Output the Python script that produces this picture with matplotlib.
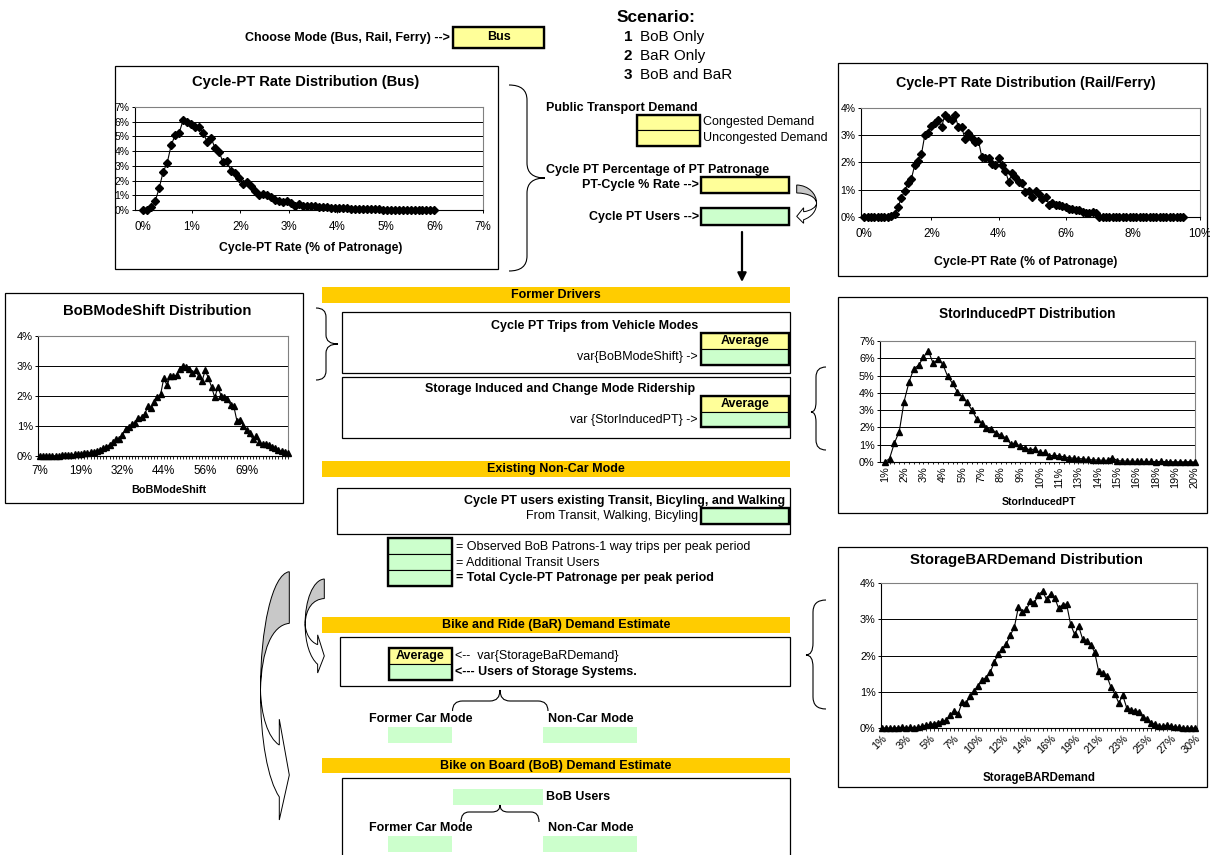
import numpy as np
import matplotlib
matplotlib.use("Agg")
import matplotlib.pyplot as plt
from matplotlib.patches import Rectangle, PathPatch
from matplotlib.path import Path

plt.rcParams['font.family'] = ['Liberation Sans', 'DejaVu Sans']

W, H = 1210, 855

# ---------------- data ----------------
# Cycle-PT rate distribution for bus (share of trials, %)
bus_share = [0, 0, 0.2, 0.6, 1.5, 2.6, 3.2, 4.4, 5.1, 5.25,
             6.1, 6.0, 5.85, 5.65, 5.65, 5.25, 4.65, 4.9, 4.2, 3.95,
             3.25, 3.3, 2.65, 2.5, 2.2, 1.8, 1.9, 1.65, 1.3, 1.05,
             1.1, 1.05, 0.85, 0.7, 0.6, 0.55, 0.6, 0.5, 0.3, 0.4,
             0.3, 0.25, 0.25, 0.25, 0.2, 0.2, 0.2, 0.15, 0.15, 0.12,
             0.15, 0.12, 0.1, 0.08, 0.06, 0.08, 0.05, 0.05, 0.04, 0.05,
             0.03, 0.03, 0.03, 0.02, 0.02, 0.02, 0.02, 0.01, 0.01, 0.01,
             0.01, 0.01, 0.01, 0.0]
bus_rate = np.linspace(0.0, 6.0, len(bus_share))
bus_xticks = ["0%", "1%", "2%", "3%", "4%", "5%", "6%", "7%"]
bus_yticks = ["0%", "1%", "2%", "3%", "4%", "5%", "6%", "7%"]

# Cycle-PT rate distribution for rail / ferry (%)
rail_share = [0, 0, 0, 0, 0, 0, 0, 0,
              0.05, 0.12, 0.35, 0.7, 0.95, 1.25, 1.4, 1.9, 2.05, 2.3,
              3.0, 3.1, 3.35, 3.45, 3.55, 3.3, 3.75, 3.65, 3.55, 3.75,
              3.3, 3.3, 2.85, 3.1, 2.9, 2.75, 2.8, 2.2, 2.15, 2.15,
              1.95, 1.9, 2.15, 1.9, 1.7, 1.3, 1.6, 1.45, 1.3, 1.25,
              0.9, 0.95, 0.75, 0.95, 0.85, 0.65, 0.75, 0.45, 0.5, 0.45,
              0.45, 0.4, 0.35, 0.3, 0.3, 0.25, 0.25, 0.2, 0.15, 0.15, 0.2, 0.15,
              0, 0, 0, 0, 0, 0, 0, 0, 0, 0, 0, 0, 0,
              0, 0, 0, 0, 0, 0, 0, 0, 0, 0, 0, 0, 0]
rail_rate = np.linspace(0.0, 9.5, len(rail_share))
rail_xticks = ["0%", "2%", "4%", "6%", "8%", "10%"]
rail_yticks = ["0%", "1%", "2%", "3%", "4%"]

# BoBModeShift distribution (%), one value per category
bob_shift_share = [0, 0, 0, 0, 0.01, 0.01, 0.01, 0.02, 0.02, 0.03,
                   0.04, 0.05, 0.06, 0.07, 0.09, 0.1, 0.12, 0.14, 0.17, 0.2,
                   0.25, 0.3, 0.38, 0.45, 0.55, 0.55, 0.7, 0.9, 0.95, 1.05,
                   1.1, 1.25, 1.3, 1.4, 1.65, 1.6, 1.8, 1.95, 2.05, 2.6,
                   2.35, 2.65, 2.65, 2.7, 2.9, 3.0, 2.95, 2.9, 2.75, 2.85,
                   2.65, 2.5, 2.85, 2.6, 2.3, 1.95, 2.3, 2.0, 1.95, 1.9,
                   1.7, 1.65, 1.15, 1.2, 1.0, 0.85, 0.75, 0.55, 0.65, 0.45,
                   0.4, 0.4, 0.35, 0.3, 0.25, 0.2, 0.15, 0.12, 0.1]
bob_shift_xticks = ["7%", "19%", "32%", "44%", "56%", "69%"]
bob_shift_yticks = ["0%", "1%", "2%", "3%", "4%"]

# StorInducedPT distribution (%)
stor_induced_share = [0, 0.2, 1.1, 1.75, 3.5, 4.6, 5.4, 5.6, 6.05, 6.45,
                      5.7, 5.95, 5.65, 4.95, 4.55, 4.05, 3.75, 3.45, 3.0, 2.5,
                      2.25, 1.95, 1.9, 1.7, 1.55, 1.4, 1.05, 1.1, 0.9, 0.8,
                      0.7, 0.75, 0.55, 0.55, 0.35,
                      0.4, 0.35, 0.3, 0.25, 0.22, 0.2, 0.18, 0.15, 0.12, 0.12,
                      0.1, 0.1, 0.25, 0.08, 0.06, 0.05, 0.05, 0.04, 0.04, 0.03,
                      0.03, 0.02, 0.03, 0.02, 0.02, 0.01, 0.01, 0.01, 0.02, 0.0]
stor_induced_xticks = ["1%", "2%", "3%", "4%", "5%", "7%", "8%", "9%", "10%",
                       "11%", "13%", "14%", "15%", "16%", "18%", "19%", "20%"]
stor_induced_yticks = ["0%", "1%", "2%", "3%", "4%", "5%", "6%", "7%"]

# StorageBARDemand distribution (%)
storage_bar_share = [0, 0, 0, 0, 0.01, 0.02, 0.01, 0.02, 0.01, 0.02,
                     0.05, 0.08, 0.1, 0.12, 0.15, 0.18, 0.22, 0.35, 0.48, 0.4,
                     0.72, 0.7, 0.87, 1.03, 1.17, 1.33, 1.39, 1.54, 1.83, 2.03,
                     2.17, 2.33, 2.56, 2.79, 3.34, 3.2, 3.27, 3.5, 3.46, 3.68,
                     3.77, 3.55, 3.71, 3.6, 3.31, 3.4, 3.42, 2.86, 2.58, 2.81,
                     2.45, 2.4, 2.3, 2.09, 1.56, 1.51, 1.44, 1.14, 0.95, 0.69,
                     0.9, 0.55, 0.5, 0.48, 0.45, 0.3, 0.25, 0.15, 0.1, 0.05,
                     0.05, 0.08, 0.05, 0.03, 0.02, 0.0, 0.0, 0.0, 0.0]
storage_bar_xticks = ["1%", "3%", "5%", "7%", "10%", "12%", "14%", "16%",
                      "19%", "21%", "23%", "25%", "27%", "30%"]
storage_bar_yticks = ["0%", "1%", "2%", "3%", "4%"]

# ---------------- colours ----------------
YELLOW = '#FFFF99'
GREEN = '#CCFFCC'
ORANGE = '#FFCC00'
SHADE = '#C8C8C8'

fig = plt.figure(figsize=(W / 100, H / 100), dpi=100)
fig.patch.set_facecolor('white')

# Sheet canvas in pixel units (y downwards)
bg = fig.add_axes([0, 0, 1, 1])
bg.set_xlim(0, W)
bg.set_ylim(H, 0)
bg.axis('off')


def rect(x0, y0, x1, y1, fc='white', ec='black', lw=0.9, z=1):
    bg.add_patch(Rectangle((x0, y0), x1 - x0, y1 - y0, facecolor=fc,
                           edgecolor=ec, lw=lw, zorder=z))


def txt(x, y, s, ha='left', bold=False, size=9.0, color='black'):
    bg.text(x, y, s, ha=ha, va='center', fontsize=size,
            fontweight='bold' if bold else 'normal', color=color, zorder=5)


def cells(x0, y0, x1, y1, colours, texts=None):
    n = len(colours)
    h = (y1 - y0) / n
    for i, c in enumerate(colours):
        rect(x0, y0 + i * h, x1, y0 + (i + 1) * h, fc=c, lw=0.8, z=2)
        if texts and texts[i]:
            txt((x0 + x1) / 2, y0 + (i + 0.5) * h, texts[i], ha='center', bold=True)
    rect(x0, y0, x1, y1, fc='none', lw=1.7, z=3)


def brace_v(x_end, x_spine, x_tip, y_top, y_bot, y_tip, r):
    v = [(x_end, y_top), (x_spine, y_top), (x_spine, y_top + r),
         (x_spine, y_tip - r), (x_spine, y_tip), (x_tip, y_tip),
         (x_spine, y_tip), (x_spine, y_tip + r),
         (x_spine, y_bot - r), (x_spine, y_bot), (x_end, y_bot)]
    c = [Path.MOVETO, Path.CURVE3, Path.CURVE3, Path.LINETO, Path.CURVE3,
         Path.CURVE3, Path.CURVE3, Path.CURVE3, Path.LINETO, Path.CURVE3,
         Path.CURVE3]
    bg.add_patch(PathPatch(Path(v, c), fc='none', ec='black', lw=0.8, zorder=4))


def brace_h(x_left, x_right, y_end, y_spine, y_tip, x_tip, r):
    v = [(x_left, y_end), (x_left, y_spine), (x_left + r, y_spine),
         (x_tip - r, y_spine), (x_tip, y_spine), (x_tip, y_tip),
         (x_tip, y_spine), (x_tip + r, y_spine),
         (x_right - r, y_spine), (x_right, y_spine), (x_right, y_end)]
    c = [Path.MOVETO, Path.CURVE3, Path.CURVE3, Path.LINETO, Path.CURVE3,
         Path.CURVE3, Path.CURVE3, Path.CURVE3, Path.LINETO, Path.CURVE3,
         Path.CURVE3]
    bg.add_patch(PathPatch(Path(v, c), fc='none', ec='black', lw=0.8, zorder=4))


def curved_arrow(x_edge, y0, w, h, sign):
    """Ribbon arrow: tail edge at x_edge, bulging by w, head pointing back."""
    def P(u, v):
        return (x_edge + sign * u * w, y0 + v * h)
    back = Path([P(0, 0), P(0.597, 0.009), P(1.0, 0.235), P(0.993, 0.476),
                 P(0.959, 0.315), P(0.597, 0.215), P(0, 0.208), P(0, 0)],
                [Path.MOVETO, Path.CURVE4, Path.CURVE4, Path.CURVE4,
                 Path.CURVE4, Path.CURVE4, Path.CURVE4, Path.CLOSEPOLY])
    front = Path([P(0.993, 0.476), P(1.0, 0.678), P(0.734, 0.839), P(0.345, 0.907),
                  P(0.345, 1.0), P(0, 0.819), P(0.345, 0.594), P(0.345, 0.698),
                  P(0.734, 0.670), P(0.976, 0.577), P(0.993, 0.476), P(0.993, 0.476)],
                 [Path.MOVETO, Path.CURVE4, Path.CURVE4, Path.CURVE4,
                  Path.LINETO, Path.LINETO, Path.LINETO, Path.LINETO,
                  Path.CURVE4, Path.CURVE4, Path.CURVE4, Path.CLOSEPOLY])
    bg.add_patch(PathPatch(front, fc='white', ec='black', lw=0.7, zorder=4))
    bg.add_patch(PathPatch(back, fc=SHADE, ec='black', lw=0.7, zorder=4))


def chart_axes(x0, y0, x1, y1, ylabels, ylsize=7.5):
    ax = fig.add_axes([x0 / W, 1 - y1 / H, (x1 - x0) / W, (y1 - y0) / H])
    ax.set_facecolor('white')
    ax.set_ylim(0, len(ylabels) - 1)
    ax.set_yticks(range(len(ylabels)))
    ax.set_yticklabels(ylabels)
    ax.yaxis.grid(True, color='black', lw=0.7)
    ax.set_axisbelow(True)
    for s in ('top', 'right'):
        ax.spines[s].set_color('#808080')
        ax.spines[s].set_linewidth(0.8)
    for s in ('left', 'bottom'):
        ax.spines[s].set_color('black')
        ax.spines[s].set_linewidth(0.8)
    ax.tick_params(axis='y', direction='out', length=2.2, width=0.7, pad=1.6,
                   labelsize=ylsize)
    return ax


# ---------------- header ----------------
txt(450, 38, "Choose Mode (Bus, Rail, Ferry) -->", ha='right', bold=True)
cells(453, 27, 544, 48, [YELLOW], ["Bus"])
txt(617, 17, "Scenario:", bold=True, size=12.5)
for yy, num, name in [(37, "1", "BoB Only"), (56, "2", "BaR Only"), (75, "3", "BoB and BaR")]:
    txt(624, yy, num, bold=True, size=11)
    txt(640, yy, name, size=11)

# ---------------- demand block ----------------
txt(546, 108, "Public Transport Demand", bold=True)
cells(637, 115, 700, 146, [YELLOW, YELLOW])
txt(703, 122.5, "Congested Demand")
txt(703, 138.5, "Uncongested Demand")
txt(546, 170, "Cycle PT Percentage of PT Patronage", bold=True)
txt(699, 185, "PT-Cycle % Rate -->", ha='right', bold=True)
cells(701, 177, 789, 193, [YELLOW])
txt(699, 216.5, "Cycle PT Users -->", ha='right', bold=True)
cells(701, 208, 789, 225, [GREEN])
curved_arrow(796.7, 185, 20, 38.3, +1)
bg.annotate('', xy=(742, 282), xytext=(742, 232),
            arrowprops=dict(arrowstyle='-|>', lw=1.6, color='black',
                            mutation_scale=13, shrinkA=0, shrinkB=0), zorder=5)

# ---------------- former drivers ----------------
rect(322, 287, 790, 303, fc=ORANGE, ec='none')
txt(556, 295, "Former Drivers", ha='center', bold=True)
rect(342, 312, 790, 373)
txt(698, 326, "Cycle PT Trips from Vehicle Modes", ha='right', bold=True)
cells(701, 333, 789, 365, [YELLOW, GREEN], ["Average", None])
txt(698, 357, "var{BoBModeShift} ->", ha='right')
rect(342, 377, 790, 438)
txt(695, 389, "Storage Induced and Change Mode Ridership", ha='right', bold=True)
cells(701, 396, 789, 427, [YELLOW, GREEN], ["Average", None])
txt(698, 420, "var {StorInducedPT} ->", ha='right')

# ---------------- existing non-car ----------------
rect(322, 461, 790, 477, fc=ORANGE, ec='none')
txt(556, 469, "Existing Non-Car Mode", ha='center', bold=True)
rect(337, 488, 790, 534)
txt(785, 501, "Cycle PT users existing Transit, Bicyling, and Walking", ha='right', bold=True)
txt(698, 516, "From Transit, Walking, Bicyling", ha='right')
cells(701, 508, 789, 524, [GREEN])

cells(388, 538, 452, 586, [GREEN, GREEN, GREEN])
txt(456, 547, "= Observed BoB Patrons-1 way trips per peak period")
txt(456, 562.5, "= Additional Transit Users")
txt(456, 578, "= Total Cycle-PT Patronage per peak period", bold=True)

# ---------------- bike and ride ----------------
rect(322, 617, 790, 633, fc=ORANGE, ec='none')
txt(556, 625, "Bike and Ride (BaR) Demand Estimate", ha='center', bold=True)
rect(340, 637, 790, 686)
cells(389, 648, 452, 680, [YELLOW, GREEN], ["Average", None])
txt(455, 656, "<--  var{StorageBaRDemand}")
txt(455, 672, "<--- Users of Storage Systems.", bold=True)
brace_h(452.5, 548, 711, 701, 690, 500, 10)
txt(421, 719, "Former Car Mode", ha='center', bold=True)
txt(591, 719, "Non-Car Mode", ha='center', bold=True)
rect(388, 727, 452, 743, fc=GREEN, ec='none')
rect(543, 727, 637, 743, fc=GREEN, ec='none')

# ---------------- bike on board ----------------
rect(322, 758, 790, 773, fc=ORANGE, ec='none')
txt(556, 765.5, "Bike on Board (BoB) Demand Estimate", ha='center', bold=True)
rect(342, 778, 790, 880)
rect(453, 789, 543, 805, fc=GREEN, ec='none')
txt(546, 797, "BoB Users", bold=True)
brace_h(461, 539, 822, 812, 805, 500, 8)
txt(421, 828, "Former Car Mode", ha='center', bold=True)
txt(591, 828, "Non-Car Mode", ha='center', bold=True)
rect(388, 836, 452, 852, fc=GREEN, ec='none')
rect(543, 836, 637, 852, fc=GREEN, ec='none')

# flow arrows on the left
curved_arrow(289.3, 571.7, 29, 248.3, -1)
curved_arrow(324.3, 579, 19.3, 94, -1)

# braces linking charts to blocks
brace_v(509, 527, 545, 85, 271, 178, 15)
brace_v(316, 326, 338, 308, 380, 344, 9)
brace_v(826, 816, 811, 367, 450, 412, 10)
brace_v(826, 813, 806, 600, 709, 655, 12)

# ---------------- chart frames & titles ----------------
rect(115, 66, 498, 269)
txt(306, 82, "Cycle-PT Rate Distribution (Bus)", ha='center', bold=True, size=10.6)
txt(311, 248, "Cycle-PT Rate (% of Patronage)", ha='center', bold=True, size=8.8)

rect(838, 63, 1207, 276)
txt(1026, 83, "Cycle-PT Rate Distribution (Rail/Ferry)", ha='center', bold=True, size=10.3)
txt(1026, 262, "Cycle-PT Rate (% of Patronage)", ha='center', bold=True, size=8.8)

rect(5, 293, 303, 503)
txt(157, 311, "BoBModeShift Distribution", ha='center', bold=True, size=10.6)
txt(169, 490, "BoBModeShift", ha='center', bold=True, size=7.8)

rect(838, 297, 1207, 513)
txt(1027, 314, "StorInducedPT Distribution", ha='center', bold=True, size=9.8)
txt(1039, 502, "StorInducedPT", ha='center', bold=True, size=7.6)

rect(838, 547, 1207, 787)
txt(1026, 560, "StorageBARDemand Distribution", ha='center', bold=True, size=10.7)
txt(1039, 777.5, "StorageBARDemand", ha='center', bold=True, size=8.3)

# ---------------- charts ----------------
line_kw = dict(color='black', lw=0.8, zorder=3, clip_on=False)

# Bus
ax1 = chart_axes(135, 107, 483, 210, bus_yticks)
ax1.plot(bus_rate, bus_share, marker='D', ms=4.1, **line_kw)
ax1.set_xlim(-0.17, 7.0)
ax1.set_xticks(range(len(bus_xticks)))
ax1.set_xticklabels(bus_xticks)
ax1.tick_params(axis='x', direction='out', length=2.2, width=0.7, pad=5.5, labelsize=8.4)

# Rail / Ferry
ax2 = chart_axes(861, 108, 1200, 217, rail_yticks)
ax2.plot(rail_rate, rail_share, marker='D', ms=4.1, **line_kw)
ax2.set_xlim(-0.1, 10.0)
ax2.set_xticks(range(0, 11, 2))
ax2.set_xticklabels(rail_xticks)
ax2.tick_params(axis='x', direction='out', length=2.2, width=0.7, pad=5.5, labelsize=8.4)

# BoBModeShift: a label every 13 categories
ax3 = chart_axes(38, 336, 288, 456, bob_shift_yticks, ylsize=8)
idx3 = np.arange(len(bob_shift_share))
ax3.plot(idx3, bob_shift_share, marker='^', ms=4.6, **line_kw)
ax3.set_xlim(-0.5, len(bob_shift_share) - 1)
ax3.set_xticks(idx3[0:13 * len(bob_shift_xticks):13])
ax3.set_xticklabels(bob_shift_xticks)
ax3.set_xticks(idx3, minor=True)
ax3.tick_params(axis='x', which='both', direction='out', length=2.2, width=0.6,
                pad=4.5, labelsize=8.4)

# StorInducedPT
ax4 = chart_axes(880, 341, 1195, 462, stor_induced_yticks, ylsize=7.8)
idx4 = np.arange(len(stor_induced_share))
ax4.plot(idx4, stor_induced_share, marker='^', ms=4.6, **line_kw)
ax4.set_xlim(-0.97, len(stor_induced_share) - 1 + 0.06)
ax4.set_xticks(idx4[::4])
ax4.set_xticklabels(stor_induced_xticks, rotation=90)
ax4.set_xticks(idx4, minor=True)
ax4.tick_params(axis='x', which='both', direction='out', length=1.5, width=0.6,
                pad=1.8, labelsize=7.8)

# StorageBARDemand
ax5 = chart_axes(881, 583, 1197, 728, storage_bar_yticks, ylsize=7.8)
idx5 = np.arange(len(storage_bar_share))
ax5.plot(idx5, storage_bar_share, marker='^', ms=4.6, **line_kw)
ax5.set_xlim(-0.25, len(storage_bar_share) - 1 + 0.5)
ax5.set_xticks(idx5[::6])
ax5.set_xticklabels(storage_bar_xticks, rotation=45, ha='right',
                    rotation_mode='anchor')
ax5.set_xticks(idx5, minor=True)
ax5.tick_params(axis='x', which='both', direction='out', length=1.8, width=0.6,
                pad=2.0, labelsize=7.8)

fig.savefig('out.png', dpi=100, facecolor='white')
